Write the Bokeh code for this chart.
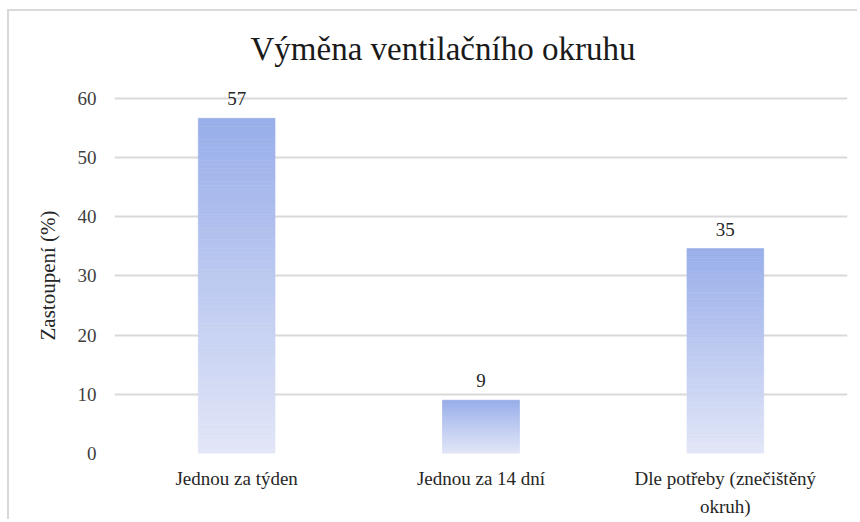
from bokeh.plotting import figure
from bokeh.models import Range1d, FixedTicker, Title, LinearAxis
from bokeh.core.properties import value
from bokeh.embed import file_html
from bokeh.resources import INLINE

categories = ["Jednou za týden", "Jednou za 14 dní", "Dle potřeby (znečištěný okruh)"]
label_line1 = ["Jednou za týden", "Jednou za 14 dní", "Dle potřeby (znečištěný"]
label_line2 = ["", "", "okruh)"]
values = [56.6, 9.0, 34.6]
value_labels = ["57", "9", "35"]
y_ticks = [0, 10, 20, 30, 40, 50, 60]
title_text = "Výměna  ventilačního  okruhu"
y_label = "Zastoupení (%)"

FONT = "'Liberation Serif', serif"
TOP = (152, 174, 234)
BOTTOM = (226, 230, 247)

# category positions on a numeric axis: one unit per category
pos = [i + 0.5 for i in range(len(categories))]

p = figure(width=850, height=510, output_backend="svg",
           toolbar_location=None, min_border_left=105, min_border_right=12,
           min_border_top=63, min_border_bottom=68, x_axis_location=None)
p.styles = {"border-top": "2px solid #d9d9d9", "border-left": "2px solid #d9d9d9",
            "margin-left": "7px", "margin-top": "9px"}
p.x_range = Range1d(0, len(categories))
p.y_range = Range1d(0, 64)
p.outline_line_color = None
p.background_fill_color = "white"
p.border_fill_color = "white"

# gradient bars: each bar split into slices, colour from bottom (light) to top (blue)
N = 80
xs, bots, tops, cols = [], [], [], []
for x, v in zip(pos, values):
    for i in range(N):
        t = (i + 0.5) / N
        r = round(BOTTOM[0] + (TOP[0] - BOTTOM[0]) * t)
        g = round(BOTTOM[1] + (TOP[1] - BOTTOM[1]) * t)
        b = round(BOTTOM[2] + (TOP[2] - BOTTOM[2]) * t)
        xs.append(x)
        bots.append(v * i / N)
        tops.append(v * (i + 1) / N)
        cols.append("#%02x%02x%02x" % (r, g, b))
p.vbar(x=xs, bottom=bots, top=tops, width=0.314, fill_color=cols, line_color=cols, line_width=0.6)

p.text(x=pos, y=values, text=value_labels, y_offset=-13,
       text_align="center", text_baseline="bottom",
       text_font=value(FONT), text_font_size="19px", text_color="#262626")

t = Title(text=title_text, align="left", offset=136, standoff=16,
          text_font=FONT, text_font_size="33px", text_font_style="normal", text_color="#1a1a1a")
p.add_layout(t, "above")

p.yaxis.ticker = FixedTicker(ticks=y_ticks)
p.yaxis.axis_line_color = None
p.yaxis.major_tick_line_color = None
p.yaxis.minor_tick_line_color = None
p.yaxis.major_label_standoff = 12
p.yaxis.major_label_text_font = FONT
p.yaxis.major_label_text_font_size = "19px"
p.yaxis.major_label_text_color = "#404040"

yt = Title(text=y_label, align="left", offset=113, standoff=30,
           text_font=FONT, text_font_size="21px", text_font_style="normal", text_color="#262626")
p.add_layout(yt, "left")


def label_axis(labels, standoff):
    ax = LinearAxis(ticker=FixedTicker(ticks=pos),
                    axis_line_color=None, major_tick_line_color=None, minor_tick_line_color=None,
                    major_tick_out=0, major_label_standoff=standoff,
                    major_label_text_font=FONT, major_label_text_font_size="19px",
                    major_label_text_color="#262626",
                    major_label_overrides={x: lab for x, lab in zip(pos, labels)})
    p.add_layout(ax, "below")


label_axis(label_line1, 14)
label_axis(label_line2, 4)

p.xgrid.grid_line_color = None
p.ygrid.grid_line_color = "#d9d9d9"
p.ygrid.grid_line_width = 2

open("out.html", "w").write(file_html(p, INLINE))
